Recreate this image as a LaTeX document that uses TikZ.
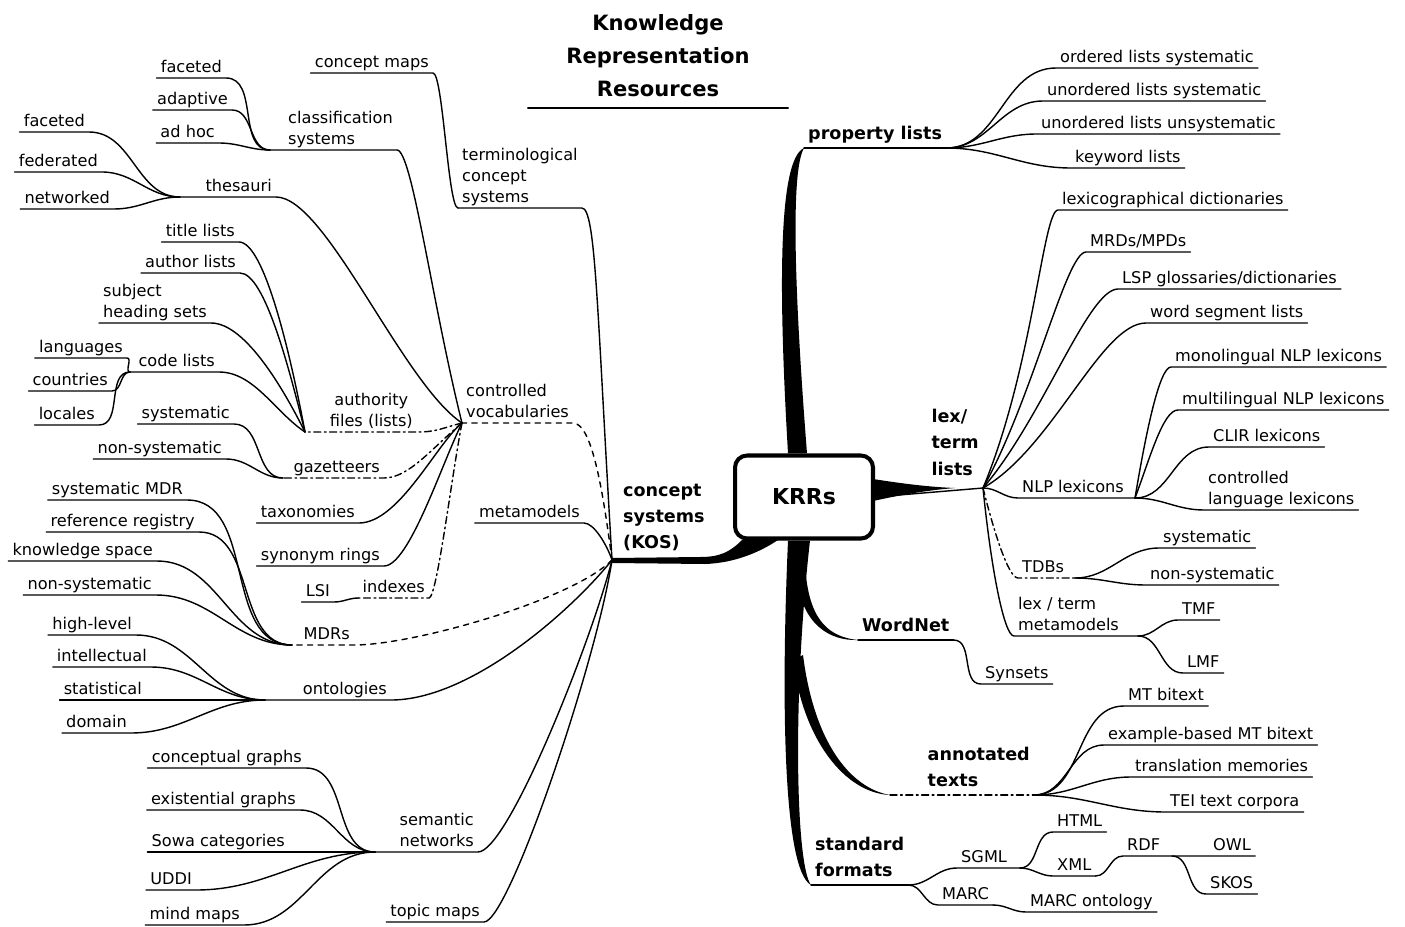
\documentclass[tikz,border=0pt]{standalone}
\usepackage{fontspec}
\setmainfont{DejaVu Sans}
\newcommand\leaffont{\fontsize{9.2}{11.8}\selectfont}
\newcommand\branchfont{\fontsize{10}{15}\selectfont\bfseries}
\begin{document}
\begin{tikzpicture}[x=0.02cm, y=-0.02cm, line width=0.8pt, line cap=round,
	leaf/.style={font=\leaffont, inner xsep=2pt, inner ysep=1.2pt, text depth=1.6pt},
	lnode/.style={leaf, anchor=south east, align=left},
	rnode/.style={leaf, anchor=south west, align=left},
	branch/.style={font=\branchfont, inner xsep=2pt, inner ysep=1.5pt, text depth=3pt, anchor=south west, align=left},
	tol/.style={out=180, in=0},
	tor/.style={out=0, in=180},
	dashdot/.style={dash pattern=on 4pt off 2pt on 1pt off 2pt}]

\useasboundingbox (0,0) rectangle (1405,926);

% Title
\node[font=\fontsize{12}{18.8}\selectfont\bfseries, align=center, anchor=south,
      inner ysep=6pt, text depth=0pt, minimum width=5.18cm] (title) at (658,108)
      {Knowledge\\Representation\\Resources};
\draw (title.south west) -- (title.south east);

% The root
\node[draw, rounded corners=0.24cm, line width=2.3pt, minimum width=2.76cm,
      minimum height=1.66cm, font=\fontsize{12.5}{15}\selectfont\bfseries] (krr) at (804,497) {KRRs};

% Main branches
\node[branch, inner ysep=3pt] (kos) at (619,560) {concept\\systems\\(KOS)};
\coordinate (kosH) at (612,560);
\node[branch] (prop) at (804,148) {property lists};
\node[branch, anchor=south east, inner ysep=4pt] (lex) at (983,488) {lex/\\term\\lists};
\node[branch] (wn) at (858,640) {WordNet};
\node[branch, anchor=south east] (ann) at (1034,795) {annotated\\texts};
\coordinate (annS) at (890,795);
\node[branch] (std) at (811,885) {standard\\formats};

% Concept systems side
\node[rnode] (tcs) at (458,208) {terminological\\concept\\systems};
\node[lnode] (cmaps) at (433,73) {concept maps};
\node[rnode] (cv) at (462,423) {controlled\\vocabularies};
\node[lnode] (cls) at (397,150) {classification\\systems};
\coordinate (clsH) at (270,150);
\node[lnode] (clsA) at (226,78) {faceted};
\node[lnode] (clsB) at (232,110) {adaptive};
\node[lnode] (clsC) at (219,143) {ad hoc};
\node[lnode] (thes) at (276,197) {thesauri};
\coordinate (thesH) at (180,197);
\node[lnode] (thesA) at (89,132) {faceted};
\node[lnode] (thesB) at (102,172) {federated};
\node[lnode] (thesC) at (114,209) {networked};
\node[lnode, align=center] (auth) at (417,432) {authority\\files (lists)};
\coordinate (authH) at (305,432);
\node[lnode] (authA) at (239,242) {title lists};
\node[lnode] (authB) at (240,273) {author lists};
\node[lnode] (authC) at (211,323) {subject\\heading sets};
\node[lnode] (code) at (219,372) {code lists};
\coordinate (codeH) at (130,372);
\node[lnode] (codeA) at (127,358) {languages};
\node[lnode] (codeB) at (112,391) {countries};
\node[lnode] (codeC) at (99,425) {locales};
\node[lnode] (gaz) at (384,478) {gazetteers};
\coordinate (gazH) at (283,478);
\node[lnode] (gazA) at (234,424) {systematic};
\node[lnode] (gazB) at (226,459) {non-systematic};
\node[lnode] (tax) at (359,523) {taxonomies};
\node[lnode] (syn) at (384,566) {synonym rings};
\node[lnode] (idx) at (429,598) {indexes};
\node[lnode] (lsi) at (334,602) {LSI};
\node[lnode] (meta) at (584,523) {metamodels};
\node[lnode] (mdr) at (354,645) {MDRs};
\coordinate (mdrH) at (292,645);
\node[lnode] (mdrA) at (187,500) {systematic MDR};
\node[lnode] (mdrB) at (199,532) {reference registry};
\node[lnode] (mdrC) at (157,561) {knowledge space};
\node[lnode] (mdrD) at (156,595) {non-systematic};
\node[lnode] (onto) at (391,700) {ontologies};
\coordinate (ontoH) at (265,700);
\node[lnode] (ontoA) at (136,635) {high-level};
\node[lnode] (ontoB) at (151,667) {intellectual};
\node[lnode] (ontoC) at (146,700) {statistical};
\node[lnode] (ontoD) at (131,733) {domain};
\node[lnode] (sem) at (478,852) {semantic\\networks};
\coordinate (semH) at (375,852);
\node[lnode] (semA) at (306,768) {conceptual graphs};
\node[lnode] (semB) at (300,810) {existential graphs};
\node[lnode] (semC) at (289,852) {Sowa categories};
\node[lnode] (semD) at (196,890) {UDDI};
\node[lnode] (semE) at (244,925) {mind maps};
\node[lnode] (topic) at (484,922) {topic maps};

% Right side
\node[rnode] (propA) at (1056,68) {ordered lists systematic};
\node[rnode] (propB) at (1043,101) {unordered lists systematic};
\node[rnode] (propC) at (1037,134) {unordered lists unsystematic};
\node[rnode] (propD) at (1071,168) {keyword lists};
\node[rnode] (lexA) at (1058,210) {lexicographical dictionaries};
\node[rnode] (lexB) at (1086,252) {MRDs/MPDs};
\node[rnode] (lexC) at (1118,289) {LSP glossaries/dictionaries};
\node[rnode] (lexD) at (1146,323) {word segment lists};
\node[rnode] (nlp) at (1018,498) {NLP lexicons};
\coordinate (nlpH) at (1135,498);
\node[rnode] (nlpA) at (1171,367) {monolingual NLP lexicons};
\node[rnode] (nlpB) at (1178,410) {multilingual NLP lexicons};
\node[rnode] (nlpC) at (1209,447) {CLIR lexicons};
\node[rnode] (nlpD) at (1204,510) {controlled\\language lexicons};
\node[rnode] (tdb) at (1018,578) {TDBs};
\coordinate (tdbH) at (1075,578);
\node[rnode] (tdbA) at (1159,548) {systematic};
\node[rnode] (tdbB) at (1146,585) {non-systematic};
\node[rnode] (ltm) at (1014,636) {lex / term\\metamodels};
\coordinate (ltmH) at (1138,636);
\node[rnode] (ltmA) at (1178,620) {TMF};
\node[rnode] (ltmB) at (1183,673) {LMF};
\node[rnode] (wnA) at (981,684) {Synsets};
\node[rnode] (annA) at (1124,706) {MT bitext};
\node[rnode] (annB) at (1104,745) {example-based MT bitext};
\node[rnode] (annC) at (1131,777) {translation memories};
\node[rnode] (annD) at (1166,812) {TEI text corpora};
\node[rnode] (sgml) at (957,868) {SGML};
\coordinate (sgmlH) at (1020,868);
\node[rnode] (html) at (1053,832) {HTML};
\node[rnode] (xml) at (1053,876) {XML};
\node[rnode] (rdf) at (1123,856) {RDF};
\coordinate (rdfH) at (1172,856);
\node[rnode] (owl) at (1209,856) {OWL};
\node[rnode] (skos) at (1206,894) {SKOS};
\node[rnode] (marc) at (938,905) {MARC};
\node[rnode] (marco) at (1026,912) {MARC ontology};

% Thick trunks out of the root
\fill ([xshift=-0.32cm]krr.north) .. controls (779,300) and (777,160) .. (prop.south west)
	.. controls (790,172) and (795,300) .. ([xshift=0.06cm]krr.north) -- cycle;
\fill (873,479) .. controls (905,484) and (930,487) .. (lex.south)
	.. controls (930,490) and (905,494) .. (873,501) -- cycle;
\fill (742,540) .. controls (730,552) and (720,557) .. (700,557) -- (612,558)
	-- (612,563) -- (705,564) .. controls (735,563) and (760,552) .. (778,540) -- cycle;
\fill ([xshift=-0.32cm]krr.south) .. controls (781,700) and (783,870) .. (std.south west)
	.. controls (796,866) and (792,700) .. ([xshift=0.12cm]krr.south) -- cycle;
\fill (797,580) .. controls (803,625) and (830,641) .. (wn.south west)
	.. controls (830,637) and (811,622) .. (806,576) -- cycle;
\fill (793,660) .. controls (803,740) and (845,793) .. (annS)
	.. controls (850,788) and (814,742) .. (803,655) -- cycle;

% Underlines of the main branches
\draw (prop.south west) -- (prop.south east);
\draw (krr.east) -- (lex.south east);
\draw (wn.south west) -- (wn.south east);
\draw (std.south west) -- (std.south east);
\draw[dashdot] (annS) -- (ann.south east);

% Concept systems
\draw (kosH) .. controls +(-15,-250) and +(14,0) .. (tcs.south east) -- (tcs.south west);
\draw (tcs.south west) .. controls +(-10,0) and +(10,0) .. (cmaps.south east) -- (cmaps.south west);
\draw[dashed] (kosH) .. controls +(-8,-60) and +(20,0) .. (cv.south east) -- (cv.south west);
\draw (kosH) .. controls +(-5,-15) and +(10,0) .. (meta.south east) -- (meta.south west);
\draw[dashed] (kosH) .. controls +(-40,40) and +(60,0) .. (mdr.south east) -- (mdrH);
\draw (kosH) .. controls +(-40,50) and +(80,0) .. (onto.south east) -- (ontoH);
\draw (kosH) .. controls +(-20,80) and +(30,0) .. (sem.south east) -- (semH);
\draw (kosH) .. controls +(-15,100) and +(25,0) .. (topic.south east) -- (topic.south west);

% Controlled vocabularies
\draw (cv.south west) .. controls +(-30,-120) and +(15,0) .. (cls.south east) -- (clsH);
\draw (cv.south west) .. controls +(-60,-40) and +(50,0) .. (thes.south east) -- (thesH);
\draw[dashdot] (cv.south west) .. controls +(-20,5) and +(20,0) .. (auth.south east) -- (authH);
\draw[dashdot] (cv.south west) .. controls +(-30,25) and +(25,0) .. (gaz.south east) -- (gazH);
\draw (cv.south west) .. controls +(-25,20) and +(40,0) .. (tax.south east) -- (tax.south west);
\draw (cv.south west) .. controls +(-20,40) and +(25,0) .. (syn.south east) -- (syn.south west);
\draw[dashdot] (cv.south west) .. controls +(-10,50) and +(8,0) .. (idx.south east) -- (idx.south west);
\draw (idx.south west) to[tol] (lsi.south east) -- (lsi.south west);

\foreach \n in {clsA,clsB,clsC}
	\draw (clsH) to[tol] (\n.south east) -- (\n.south west);
\foreach \n in {thesA,thesB,thesC}
	\draw (thesH) to[tol] (\n.south east) -- (\n.south west);
\draw (authH) .. controls +(-15,-80) and +(25,0) .. (authA.south east) -- (authA.south west);
\draw (authH) .. controls +(-15,-60) and +(25,0) .. (authB.south east) -- (authB.south west);
\draw (authH) .. controls +(-20,-40) and +(35,0) .. (authC.south east) -- (authC.south west);
\draw (authH) .. controls +(-30,-20) and +(35,0) .. (code.south east) -- (codeH);
\foreach \n in {codeA,codeB,codeC}
	\draw (codeH) to[tol] (\n.south east) -- (\n.south west);
\foreach \n in {gazA,gazB}
	\draw (gazH) to[tol] (\n.south east) -- (\n.south west);
\foreach \n in {mdrA,mdrB,mdrC,mdrD}
	\draw (mdrH) to[tol] (\n.south east) -- (\n.south west);
\foreach \n in {ontoA,ontoB,ontoD}
	\draw (ontoH) to[tol] (\n.south east) -- (\n.south west);
\draw (ontoH) -- (ontoC.south west);
\foreach \n in {semA,semB,semD,semE}
	\draw (semH) to[tol] (\n.south east) -- (\n.south west);
\draw (semH) -- (semC.south west);

% Property lists
\foreach \n in {propA,propB,propC,propD}
	\draw (prop.south east) to[tor] (\n.south west) -- (\n.south east);

% Lex / term lists
\draw (lex.south east) .. controls +(50,-120) and +(-15,0) .. (lexA.south west) -- (lexA.south east);
\draw (lex.south east) .. controls +(50,-90) and +(-20,0) .. (lexB.south west) -- (lexB.south east);
\draw (lex.south east) .. controls +(60,-70) and +(-30,0) .. (lexC.south west) -- (lexC.south east);
\draw (lex.south east) .. controls +(70,-40) and +(-45,0) .. (lexD.south west) -- (lexD.south east);
\draw (lex.south east) to[tor] (nlp.south west) -- (nlpH);
\draw[dashdot] (lex.south east) .. controls +(10,40) and +(-10,0) .. (tdb.south west) -- (tdbH);
\draw (lex.south east) .. controls +(8,80) and +(-10,0) .. (ltm.south west) -- (ltmH);
\draw (nlpH) .. controls +(10,-60) and +(-12,0) .. (nlpA.south west) -- (nlpA.south east);
\draw (nlpH) .. controls +(15,-40) and +(-15,0) .. (nlpB.south west) -- (nlpB.south east);
\foreach \n in {nlpC,nlpD}
	\draw (nlpH) to[tor] (\n.south west) -- (\n.south east);
\foreach \n in {tdbA,tdbB}
	\draw (tdbH) to[tor] (\n.south west) -- (\n.south east);
\foreach \n in {ltmA,ltmB}
	\draw (ltmH) to[tor] (\n.south west) -- (\n.south east);

% WordNet, annotated texts
\draw (wn.south east) to[tor] (wnA.south west) -- (wnA.south east);
\foreach \n in {annA,annB,annC,annD}
	\draw (ann.south east) to[tor] (\n.south west) -- (\n.south east);

% Standard formats
\draw (std.south east) to[tor] (sgml.south west) -- (sgmlH);
\draw (std.south east) to[tor] (marc.south west) -- (marc.south east);
\draw (sgmlH) to[tor] (html.south west) -- (html.south east);
\draw (sgmlH) to[tor] (xml.south west) -- (xml.south east);
\draw (xml.south east) to[tor] (rdf.south west) -- (rdfH) -- (owl.south west) -- (owl.south east);
\draw (rdfH) to[tor] (skos.south west) -- (skos.south east);
\draw (marc.south east) to[tor] (marco.south west) -- (marco.south east);
\end{tikzpicture}
\end{document}
